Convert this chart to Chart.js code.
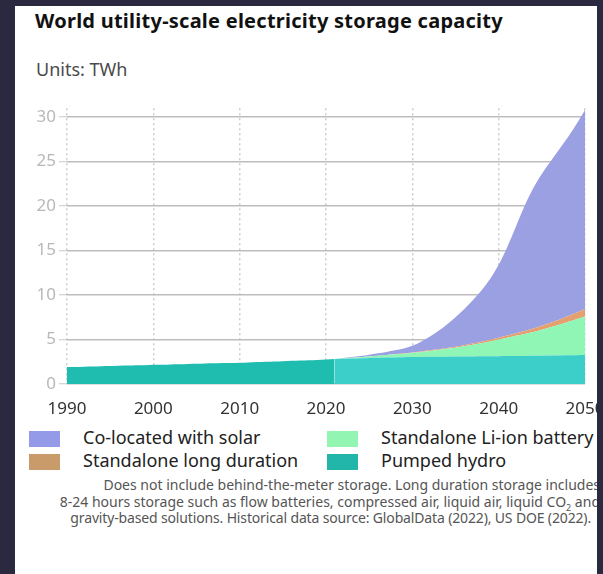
<!DOCTYPE html>
<html>
<head>
<meta charset="utf-8">
<script src="https://cdn.jsdelivr.net/npm/chart.js@4/dist/chart.umd.min.js"></script>
<style>
  html, body { margin:0; padding:0; }
  body { width:603px; height:574px; background:#2a2940; position:relative; overflow:hidden; font-family:"Noto Sans", sans-serif; }
  #card { position:absolute; left:15px; top:6px; width:582px; height:600px; background:#fff; overflow:hidden; }
  #title { position:absolute; left:20px; top:3px; font-size:20px; line-height:24px; font-weight:bold; letter-spacing:0.25px; color:#111; white-space:nowrap; }
  #units { position:absolute; left:21px; top:53px; font-size:18px; line-height:20px; color:#4a4a4a; white-space:nowrap; }
  #chart { position:absolute; left:0; top:89px; }
  .lg { position:absolute; font-size:18px; line-height:22px; color:#222; white-space:nowrap; }
  .box { position:absolute; width:31px; height:16px; }
  #note { position:absolute; right:-3px; top:471px; font-size:14px; line-height:16.5px; color:#555; text-align:right; white-space:nowrap; }
  #note sub { font-size:9px; line-height:0; }
</style>
</head>
<body>
<div id="card">
  <div id="title">World utility-scale electricity storage capacity</div>
  <div id="units">Units: TWh</div>
  <canvas id="chart" width="598" height="330"></canvas>
  <div id="legend"></div>
  <div id="note">Does not include behind-the-meter storage. Long duration storage includes<br>8-24 hours storage such as flow batteries, compressed air, liquid air, liquid CO<sub>2</sub> and<br><span style="padding-right:9px;letter-spacing:-0.15px">gravity-based solutions. Historical data source: GlobalData (2022), US DOE (2022).</span></div>
</div>
<script>
// ---- data (TWh) ----
const histYears = [1990,1991,1992,1993,1994,1995,1996,1997,1998,1999,2000,2001,2002,2003,2004,2005,2006,2007,2008,2009,2010,2011,2012,2013,2014,2015,2016,2017,2018,2019,2020,2021];
const histPumpedHydro = [1.90,1.92,1.95,1.97,2.00,2.02,2.05,2.07,2.10,2.12,2.15,2.17,2.20,2.22,2.25,2.27,2.30,2.32,2.35,2.37,2.40,2.43,2.46,2.50,2.53,2.57,2.60,2.64,2.67,2.71,2.75,2.80];

const projYears = [2021,2022,2023,2024,2025,2026,2027,2028,2029,2030,2031,2032,2033,2034,2035,2036,2037,2038,2039,2040,2041,2042,2043,2044,2045,2046,2047,2048,2049,2050];
const pumpedHydro = [2.80,2.84,2.87,2.90,2.93,2.95,2.97,2.99,3.01,3.03,3.04,3.05,3.06,3.07,3.08,3.09,3.10,3.11,3.12,3.13,3.14,3.15,3.16,3.17,3.18,3.19,3.20,3.22,3.23,3.25];
const liIon = [0.00,0.04,0.08,0.12,0.17,0.22,0.28,0.34,0.40,0.47,0.56,0.66,0.76,0.88,1.00,1.15,1.31,1.48,1.67,1.87,2.06,2.26,2.46,2.68,2.92,3.18,3.45,3.74,4.04,4.35];
const longDuration = [0.00,0.00,0.00,0.00,0.01,0.01,0.02,0.03,0.04,0.05,0.06,0.07,0.08,0.09,0.10,0.12,0.14,0.16,0.18,0.21,0.25,0.29,0.34,0.39,0.45,0.51,0.58,0.65,0.73,0.82];
const colocatedSolar = [0.00,0.04,0.09,0.14,0.19,0.27,0.33,0.42,0.55,0.75,1.09,1.52,2.05,2.66,3.32,4.04,4.85,5.75,6.83,8.19,9.95,12.00,14.04,15.76,17.05,18.12,19.12,20.09,21.20,22.38];

const seriesNames = ["Co-located with solar","Standalone Li-ion battery","Standalone long duration","Pumped hydro"];
const yTicks = [0,5,10,15,20,25,30];
const xTicks = [1990,2000,2010,2020,2030,2040,2050];

const pts = (xs, ys) => xs.map((x,i) => ({x:x, y:ys[i]}));

const areaBase = { pointRadius:0, borderWidth:0, tension:0.25, cubicInterpolationMode:'monotone' };

const datasets = [
  Object.assign({ label:seriesNames[3]+' (historical)', data:pts(histYears,histPumpedHydro), backgroundColor:'#1ebdb0', fill:'origin', stack:'hist' }, areaBase),
  Object.assign({ label:seriesNames[3], data:pts(projYears,pumpedHydro), backgroundColor:'#3ccfca', fill:'origin', stack:'proj' }, areaBase),
  Object.assign({ label:seriesNames[1], data:pts(projYears,liIon), backgroundColor:'#8ff6b5', fill:'-1', stack:'proj' }, areaBase),
  Object.assign({ label:seriesNames[2], data:pts(projYears,longDuration), backgroundColor:'#e5a070', fill:'-1', stack:'proj' }, areaBase),
  Object.assign({ label:seriesNames[0], data:pts(projYears,colocatedSolar), backgroundColor:'#9ba0e3', fill:'-1', stack:'proj' }, areaBase)
];

new Chart(document.getElementById('chart'), {
  type:'line',
  data:{ datasets:datasets },
  options:{
    responsive:false,
    animation:false,
    devicePixelRatio:1,
    layout:{ padding:{ top:8, left:0, right:28, bottom:0 } },
    plugins:{ legend:{ display:false }, tooltip:{ enabled:false } },
    scales:{
      x:{
        type:'linear', min:1990, max:2050,
        afterBuildTicks:(s)=>{ s.ticks = xTicks.map(v=>({value:v})); },
        afterFit:(s)=>{ s.height = 41; s.paddingRight = 0; s.paddingLeft = 0; },
        ticks:{ font:{ family:'"Noto Sans", sans-serif', size:17 }, color:'#333', padding:15, maxRotation:0, callback:(v)=>String(v) },
        grid:{ color:'#cccccc', lineWidth:1.5, drawTicks:false },
        border:{ display:false, dash:[2,3] }
      },
      y:{
        stacked:true, min:0, max:31, z:1,
        afterBuildTicks:(s)=>{ s.ticks = yTicks.map(v=>({value:v})); },
        afterFit:(s)=>{ s.width = 52; },
        ticks:{ font:{ family:'"Noto Sans", sans-serif', size:17 }, color:'#b8b8b8', padding:3 },
        grid:{ color:'#bdbdbd', lineWidth:1.5, tickLength:8, tickColor:'#c8c8c8', tickWidth:1 },
        border:{ display:false }
      }
    }
  }
});

// ---- legend (HTML, two columns) ----
const legendItems = [
  { name:seriesNames[0], color:'#9499e8', left:14, top:425 },
  { name:seriesNames[1], color:'#92f6b2', left:312, top:425 },
  { name:seriesNames[2], color:'#c99a6a', left:14, top:448 },
  { name:seriesNames[3], color:'#22b5a9', left:312, top:448 }
];
const lg = document.getElementById('legend');
legendItems.forEach(it => {
  const b = document.createElement('div');
  b.className = 'box'; b.style.left = it.left+'px'; b.style.top = it.top+'px'; b.style.background = it.color;
  lg.appendChild(b);
  const t = document.createElement('div');
  t.className = 'lg'; t.textContent = it.name; t.style.left = (it.left+54)+'px'; t.style.top = (it.top-5)+'px';
  lg.appendChild(t);
});
</script>
</body>
</html>
